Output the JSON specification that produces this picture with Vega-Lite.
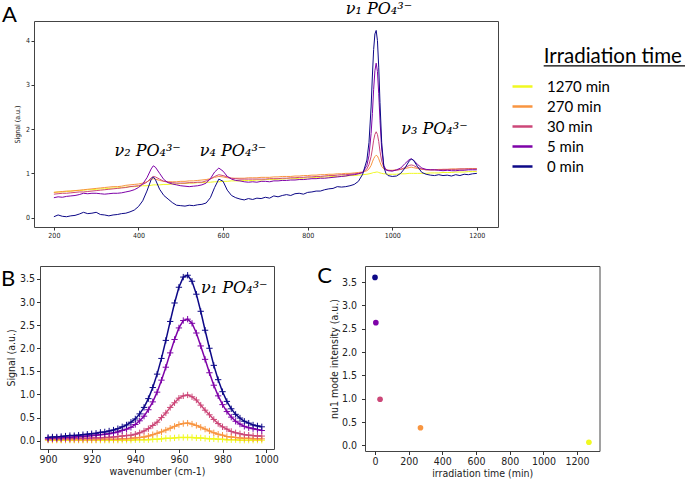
{
"$schema": "https://vega.github.io/schema/vega-lite/v6.json",
"padding": 0,
"background": "white",
"config": {
 "view": {"stroke": "#444", "strokeWidth": 1},
 "axis": {"domain": false, "grid": false, "tickColor": "#333", "labelColor": "#222", "titleColor": "#222", "titleFontWeight": "normal", "labelFont": "DejaVu Sans Condensed, DejaVu Sans", "titleFont": "DejaVu Sans Condensed, DejaVu Sans", "tickSize": 3.5, "labelPadding": 2, "labelFlush": false, "labelOverlap": false}
},
"datasets": {
 "spec": [
{"w":200,"1270 min":0.57,"270 min":0.57,"30 min":0.53,"5 min":0.45,"0 min":0.02},
{"w":210,"1270 min":0.58,"270 min":0.58,"30 min":0.54,"5 min":0.47,"0 min":0.06},
{"w":220,"1270 min":0.58,"270 min":0.59,"30 min":0.55,"5 min":0.46,"0 min":0.03},
{"w":230,"1270 min":0.59,"270 min":0.60,"30 min":0.55,"5 min":0.48,"0 min":0.02},
{"w":240,"1270 min":0.60,"270 min":0.60,"30 min":0.56,"5 min":0.49,"0 min":0.04},
{"w":250,"1270 min":0.61,"270 min":0.61,"30 min":0.57,"5 min":0.50,"0 min":0.05},
{"w":260,"1270 min":0.61,"270 min":0.62,"30 min":0.58,"5 min":0.52,"0 min":0.08},
{"w":270,"1270 min":0.62,"270 min":0.63,"30 min":0.58,"5 min":0.55,"0 min":0.12},
{"w":280,"1270 min":0.63,"270 min":0.64,"30 min":0.59,"5 min":0.54,"0 min":0.09},
{"w":290,"1270 min":0.63,"270 min":0.65,"30 min":0.60,"5 min":0.55,"0 min":0.10},
{"w":300,"1270 min":0.64,"270 min":0.66,"30 min":0.61,"5 min":0.55,"0 min":0.12},
{"w":310,"1270 min":0.65,"270 min":0.67,"30 min":0.62,"5 min":0.54,"0 min":0.07},
{"w":320,"1270 min":0.65,"270 min":0.68,"30 min":0.63,"5 min":0.53,"0 min":0.06},
{"w":330,"1270 min":0.66,"270 min":0.69,"30 min":0.64,"5 min":0.54,"0 min":0.04},
{"w":340,"1270 min":0.67,"270 min":0.70,"30 min":0.65,"5 min":0.55,"0 min":0.06},
{"w":350,"1270 min":0.67,"270 min":0.70,"30 min":0.66,"5 min":0.55,"0 min":0.07},
{"w":360,"1270 min":0.68,"270 min":0.71,"30 min":0.67,"5 min":0.56,"0 min":0.09},
{"w":370,"1270 min":0.69,"270 min":0.73,"30 min":0.68,"5 min":0.58,"0 min":0.10},
{"w":380,"1270 min":0.70,"270 min":0.74,"30 min":0.70,"5 min":0.60,"0 min":0.13},
{"w":390,"1270 min":0.70,"270 min":0.75,"30 min":0.71,"5 min":0.63,"0 min":0.17},
{"w":400,"1270 min":0.71,"270 min":0.76,"30 min":0.72,"5 min":0.68,"0 min":0.25},
{"w":410,"1270 min":0.72,"270 min":0.78,"30 min":0.75,"5 min":0.76,"0 min":0.38},
{"w":420,"1270 min":0.72,"270 min":0.81,"30 min":0.80,"5 min":0.90,"0 min":0.60},
{"w":430,"1270 min":0.73,"270 min":0.86,"30 min":0.90,"5 min":1.10,"0 min":0.86},
{"w":435,"1270 min":0.74,"270 min":0.88,"30 min":0.93,"5 min":1.17,"0 min":0.92},
{"w":440,"1270 min":0.74,"270 min":0.87,"30 min":0.92,"5 min":1.14,"0 min":0.86},
{"w":450,"1270 min":0.74,"270 min":0.84,"30 min":0.87,"5 min":1.00,"0 min":0.64},
{"w":460,"1270 min":0.75,"270 min":0.82,"30 min":0.82,"5 min":0.86,"0 min":0.50},
{"w":470,"1270 min":0.75,"270 min":0.81,"30 min":0.80,"5 min":0.79,"0 min":0.42},
{"w":480,"1270 min":0.76,"270 min":0.81,"30 min":0.79,"5 min":0.76,"0 min":0.34},
{"w":490,"1270 min":0.76,"270 min":0.81,"30 min":0.78,"5 min":0.74,"0 min":0.28},
{"w":500,"1270 min":0.77,"270 min":0.82,"30 min":0.78,"5 min":0.72,"0 min":0.27},
{"w":510,"1270 min":0.77,"270 min":0.82,"30 min":0.78,"5 min":0.71,"0 min":0.26},
{"w":520,"1270 min":0.78,"270 min":0.83,"30 min":0.79,"5 min":0.70,"0 min":0.28},
{"w":530,"1270 min":0.78,"270 min":0.83,"30 min":0.79,"5 min":0.71,"0 min":0.27},
{"w":540,"1270 min":0.79,"270 min":0.84,"30 min":0.80,"5 min":0.72,"0 min":0.29},
{"w":550,"1270 min":0.79,"270 min":0.85,"30 min":0.80,"5 min":0.74,"0 min":0.30},
{"w":560,"1270 min":0.80,"270 min":0.86,"30 min":0.83,"5 min":0.78,"0 min":0.33},
{"w":570,"1270 min":0.80,"270 min":0.88,"30 min":0.87,"5 min":0.88,"0 min":0.45},
{"w":580,"1270 min":0.81,"270 min":0.91,"30 min":0.93,"5 min":1.03,"0 min":0.68},
{"w":590,"1270 min":0.81,"270 min":0.93,"30 min":0.97,"5 min":1.12,"0 min":0.87},
{"w":600,"1270 min":0.82,"270 min":0.92,"30 min":0.95,"5 min":1.05,"0 min":0.82},
{"w":610,"1270 min":0.82,"270 min":0.90,"30 min":0.92,"5 min":0.93,"0 min":0.62},
{"w":620,"1270 min":0.83,"270 min":0.89,"30 min":0.89,"5 min":0.87,"0 min":0.50},
{"w":630,"1270 min":0.83,"270 min":0.89,"30 min":0.88,"5 min":0.84,"0 min":0.45},
{"w":640,"1270 min":0.83,"270 min":0.89,"30 min":0.87,"5 min":0.83,"0 min":0.42},
{"w":650,"1270 min":0.84,"270 min":0.89,"30 min":0.87,"5 min":0.81,"0 min":0.40},
{"w":660,"1270 min":0.84,"270 min":0.90,"30 min":0.87,"5 min":0.80,"0 min":0.43},
{"w":670,"1270 min":0.84,"270 min":0.90,"30 min":0.87,"5 min":0.81,"0 min":0.41},
{"w":680,"1270 min":0.85,"270 min":0.90,"30 min":0.87,"5 min":0.80,"0 min":0.44},
{"w":690,"1270 min":0.85,"270 min":0.91,"30 min":0.87,"5 min":0.82,"0 min":0.43},
{"w":700,"1270 min":0.86,"270 min":0.91,"30 min":0.87,"5 min":0.82,"0 min":0.46},
{"w":710,"1270 min":0.86,"270 min":0.91,"30 min":0.88,"5 min":0.81,"0 min":0.44},
{"w":720,"1270 min":0.86,"270 min":0.92,"30 min":0.88,"5 min":0.83,"0 min":0.49},
{"w":730,"1270 min":0.87,"270 min":0.92,"30 min":0.88,"5 min":0.83,"0 min":0.47},
{"w":740,"1270 min":0.87,"270 min":0.93,"30 min":0.89,"5 min":0.84,"0 min":0.50},
{"w":750,"1270 min":0.88,"270 min":0.93,"30 min":0.89,"5 min":0.84,"0 min":0.52},
{"w":760,"1270 min":0.88,"270 min":0.93,"30 min":0.90,"5 min":0.85,"0 min":0.50},
{"w":770,"1270 min":0.88,"270 min":0.94,"30 min":0.90,"5 min":0.85,"0 min":0.54},
{"w":780,"1270 min":0.89,"270 min":0.94,"30 min":0.91,"5 min":0.86,"0 min":0.55},
{"w":790,"1270 min":0.89,"270 min":0.95,"30 min":0.91,"5 min":0.86,"0 min":0.53},
{"w":800,"1270 min":0.90,"270 min":0.95,"30 min":0.92,"5 min":0.87,"0 min":0.57},
{"w":810,"1270 min":0.90,"270 min":0.96,"30 min":0.92,"5 min":0.88,"0 min":0.58},
{"w":820,"1270 min":0.91,"270 min":0.96,"30 min":0.93,"5 min":0.88,"0 min":0.60},
{"w":830,"1270 min":0.91,"270 min":0.97,"30 min":0.93,"5 min":0.89,"0 min":0.60},
{"w":840,"1270 min":0.92,"270 min":0.97,"30 min":0.94,"5 min":0.89,"0 min":0.63},
{"w":850,"1270 min":0.92,"270 min":0.98,"30 min":0.95,"5 min":0.90,"0 min":0.65},
{"w":860,"1270 min":0.93,"270 min":0.98,"30 min":0.95,"5 min":0.91,"0 min":0.66},
{"w":870,"1270 min":0.93,"270 min":0.99,"30 min":0.96,"5 min":0.92,"0 min":0.70},
{"w":880,"1270 min":0.94,"270 min":0.99,"30 min":0.97,"5 min":0.93,"0 min":0.69},
{"w":890,"1270 min":0.94,"270 min":1.00,"30 min":0.97,"5 min":0.94,"0 min":0.70},
{"w":900,"1270 min":0.95,"270 min":1.00,"30 min":0.98,"5 min":0.96,"0 min":0.72},
{"w":910,"1270 min":0.95,"270 min":1.01,"30 min":0.99,"5 min":0.97,"0 min":0.75},
{"w":920,"1270 min":0.96,"270 min":1.02,"30 min":1.00,"5 min":0.99,"0 min":0.82},
{"w":930,"1270 min":0.97,"270 min":1.03,"30 min":1.02,"5 min":1.02,"0 min":0.98},
{"w":940,"1270 min":0.98,"270 min":1.06,"30 min":1.10,"5 min":1.18,"0 min":1.30},
{"w":945,"1270 min":0.99,"270 min":1.10,"30 min":1.20,"5 min":1.40,"0 min":1.70},
{"w":950,"1270 min":1.00,"270 min":1.18,"30 min":1.38,"5 min":1.90,"0 min":2.50},
{"w":953,"1270 min":1.01,"270 min":1.26,"30 min":1.55,"5 min":2.35,"0 min":3.20},
{"w":956,"1270 min":1.02,"270 min":1.33,"30 min":1.75,"5 min":2.90,"0 min":3.80},
{"w":959,"1270 min":1.02,"270 min":1.38,"30 min":1.88,"5 min":3.32,"0 min":4.15},
{"w":962,"1270 min":1.03,"270 min":1.41,"30 min":1.94,"5 min":3.49,"0 min":4.23},
{"w":965,"1270 min":1.03,"270 min":1.39,"30 min":1.88,"5 min":3.30,"0 min":4.00},
{"w":968,"1270 min":1.02,"270 min":1.33,"30 min":1.72,"5 min":2.80,"0 min":3.40},
{"w":971,"1270 min":1.01,"270 min":1.25,"30 min":1.50,"5 min":2.20,"0 min":2.60},
{"w":975,"1270 min":1.00,"270 min":1.16,"30 min":1.28,"5 min":1.55,"0 min":1.70},
{"w":980,"1270 min":0.99,"270 min":1.10,"30 min":1.14,"5 min":1.18,"0 min":1.15},
{"w":985,"1270 min":0.99,"270 min":1.08,"30 min":1.09,"5 min":1.08,"0 min":1.00},
{"w":990,"1270 min":0.98,"270 min":1.07,"30 min":1.07,"5 min":1.06,"0 min":0.95},
{"w":1000,"1270 min":0.98,"270 min":1.07,"30 min":1.06,"5 min":1.05,"0 min":0.93},
{"w":1010,"1270 min":0.98,"270 min":1.08,"30 min":1.07,"5 min":1.08,"0 min":0.94},
{"w":1020,"1270 min":0.99,"270 min":1.09,"30 min":1.09,"5 min":1.12,"0 min":1.00},
{"w":1030,"1270 min":0.99,"270 min":1.11,"30 min":1.13,"5 min":1.22,"0 min":1.12},
{"w":1040,"1270 min":1.00,"270 min":1.13,"30 min":1.18,"5 min":1.31,"0 min":1.28},
{"w":1045,"1270 min":1.00,"270 min":1.14,"30 min":1.19,"5 min":1.33,"0 min":1.32},
{"w":1050,"1270 min":1.00,"270 min":1.13,"30 min":1.18,"5 min":1.30,"0 min":1.30},
{"w":1060,"1270 min":1.00,"270 min":1.11,"30 min":1.13,"5 min":1.20,"0 min":1.15},
{"w":1070,"1270 min":1.00,"270 min":1.09,"30 min":1.10,"5 min":1.12,"0 min":1.02},
{"w":1080,"1270 min":1.00,"270 min":1.08,"30 min":1.08,"5 min":1.09,"0 min":0.98},
{"w":1090,"1270 min":1.01,"270 min":1.08,"30 min":1.08,"5 min":1.08,"0 min":0.96},
{"w":1100,"1270 min":1.01,"270 min":1.08,"30 min":1.08,"5 min":1.08,"0 min":0.95},
{"w":1110,"1270 min":1.01,"270 min":1.09,"30 min":1.08,"5 min":1.07,"0 min":0.97},
{"w":1120,"1270 min":1.02,"270 min":1.09,"30 min":1.09,"5 min":1.06,"0 min":0.95},
{"w":1130,"1270 min":1.02,"270 min":1.09,"30 min":1.09,"5 min":1.07,"0 min":0.96},
{"w":1140,"1270 min":1.02,"270 min":1.10,"30 min":1.09,"5 min":1.06,"0 min":0.94},
{"w":1150,"1270 min":1.03,"270 min":1.10,"30 min":1.09,"5 min":1.06,"0 min":0.97},
{"w":1160,"1270 min":1.03,"270 min":1.10,"30 min":1.10,"5 min":1.07,"0 min":0.95},
{"w":1170,"1270 min":1.03,"270 min":1.10,"30 min":1.10,"5 min":1.07,"0 min":0.98},
{"w":1180,"1270 min":1.04,"270 min":1.11,"30 min":1.10,"5 min":1.08,"0 min":0.97},
{"w":1190,"1270 min":1.04,"270 min":1.11,"30 min":1.10,"5 min":1.08,"0 min":0.99},
{"w":1200,"1270 min":1.04,"270 min":1.11,"30 min":1.10,"5 min":1.08,"0 min":1.00}
 ],
 "fit": [
{"w":900,"1270 min":0.01,"270 min":0.02,"30 min":0.03,"5 min":0.05,"0 min":0.07},
{"w":902,"1270 min":0.01,"270 min":0.02,"30 min":0.04,"5 min":0.05,"0 min":0.08},
{"w":904,"1270 min":0.01,"270 min":0.02,"30 min":0.04,"5 min":0.06,"0 min":0.08},
{"w":906,"1270 min":0.01,"270 min":0.02,"30 min":0.04,"5 min":0.06,"0 min":0.09},
{"w":908,"1270 min":0.01,"270 min":0.02,"30 min":0.04,"5 min":0.07,"0 min":0.10},
{"w":910,"1270 min":0.01,"270 min":0.02,"30 min":0.04,"5 min":0.07,"0 min":0.11},
{"w":912,"1270 min":0.01,"270 min":0.02,"30 min":0.05,"5 min":0.08,"0 min":0.11},
{"w":914,"1270 min":0.01,"270 min":0.02,"30 min":0.05,"5 min":0.09,"0 min":0.12},
{"w":916,"1270 min":0.01,"270 min":0.02,"30 min":0.05,"5 min":0.09,"0 min":0.13},
{"w":918,"1270 min":0.01,"270 min":0.02,"30 min":0.05,"5 min":0.10,"0 min":0.14},
{"w":920,"1270 min":0.01,"270 min":0.02,"30 min":0.06,"5 min":0.11,"0 min":0.15},
{"w":922,"1270 min":0.01,"270 min":0.02,"30 min":0.06,"5 min":0.12,"0 min":0.16},
{"w":924,"1270 min":0.01,"270 min":0.03,"30 min":0.06,"5 min":0.13,"0 min":0.18},
{"w":926,"1270 min":0.01,"270 min":0.03,"30 min":0.07,"5 min":0.14,"0 min":0.19},
{"w":928,"1270 min":0.01,"270 min":0.03,"30 min":0.07,"5 min":0.15,"0 min":0.21},
{"w":930,"1270 min":0.01,"270 min":0.03,"30 min":0.08,"5 min":0.17,"0 min":0.23},
{"w":932,"1270 min":0.01,"270 min":0.03,"30 min":0.09,"5 min":0.19,"0 min":0.26},
{"w":934,"1270 min":0.01,"270 min":0.04,"30 min":0.10,"5 min":0.22,"0 min":0.30},
{"w":936,"1270 min":0.01,"270 min":0.04,"30 min":0.11,"5 min":0.25,"0 min":0.34},
{"w":938,"1270 min":0.01,"270 min":0.05,"30 min":0.12,"5 min":0.29,"0 min":0.40},
{"w":940,"1270 min":0.02,"270 min":0.06,"30 min":0.14,"5 min":0.35,"0 min":0.47},
{"w":942,"1270 min":0.02,"270 min":0.07,"30 min":0.17,"5 min":0.43,"0 min":0.58},
{"w":944,"1270 min":0.02,"270 min":0.08,"30 min":0.21,"5 min":0.53,"0 min":0.72},
{"w":946,"1270 min":0.02,"270 min":0.10,"30 min":0.26,"5 min":0.67,"0 min":0.91},
{"w":948,"1270 min":0.03,"270 min":0.13,"30 min":0.33,"5 min":0.84,"0 min":1.15},
{"w":950,"1270 min":0.03,"270 min":0.16,"30 min":0.40,"5 min":1.05,"0 min":1.44},
{"w":952,"1270 min":0.04,"270 min":0.19,"30 min":0.50,"5 min":1.31,"0 min":1.78},
{"w":954,"1270 min":0.05,"270 min":0.23,"30 min":0.60,"5 min":1.59,"0 min":2.17},
{"w":956,"1270 min":0.05,"270 min":0.27,"30 min":0.72,"5 min":1.90,"0 min":2.58},
{"w":958,"1270 min":0.06,"270 min":0.31,"30 min":0.82,"5 min":2.19,"0 min":2.98},
{"w":960,"1270 min":0.07,"270 min":0.35,"30 min":0.92,"5 min":2.44,"0 min":3.32},
{"w":962,"1270 min":0.07,"270 min":0.37,"30 min":0.97,"5 min":2.60,"0 min":3.54},
{"w":964,"1270 min":0.07,"270 min":0.38,"30 min":0.99,"5 min":2.63,"0 min":3.58},
{"w":966,"1270 min":0.07,"270 min":0.36,"30 min":0.95,"5 min":2.54,"0 min":3.45},
{"w":968,"1270 min":0.06,"270 min":0.33,"30 min":0.88,"5 min":2.33,"0 min":3.17},
{"w":970,"1270 min":0.06,"270 min":0.29,"30 min":0.77,"5 min":2.05,"0 min":2.80},
{"w":972,"1270 min":0.05,"270 min":0.25,"30 min":0.66,"5 min":1.76,"0 min":2.39},
{"w":974,"1270 min":0.04,"270 min":0.21,"30 min":0.56,"5 min":1.47,"0 min":2.00},
{"w":976,"1270 min":0.04,"270 min":0.17,"30 min":0.46,"5 min":1.20,"0 min":1.63},
{"w":978,"1270 min":0.03,"270 min":0.14,"30 min":0.37,"5 min":0.97,"0 min":1.32},
{"w":980,"1270 min":0.03,"270 min":0.12,"30 min":0.30,"5 min":0.78,"0 min":1.06},
{"w":982,"1270 min":0.02,"270 min":0.09,"30 min":0.25,"5 min":0.63,"0 min":0.85},
{"w":984,"1270 min":0.02,"270 min":0.08,"30 min":0.20,"5 min":0.51,"0 min":0.69},
{"w":986,"1270 min":0.02,"270 min":0.07,"30 min":0.17,"5 min":0.42,"0 min":0.57},
{"w":988,"1270 min":0.01,"270 min":0.06,"30 min":0.15,"5 min":0.36,"0 min":0.49},
{"w":990,"1270 min":0.01,"270 min":0.05,"30 min":0.13,"5 min":0.31,"0 min":0.42},
{"w":992,"1270 min":0.01,"270 min":0.05,"30 min":0.12,"5 min":0.28,"0 min":0.38},
{"w":994,"1270 min":0.01,"270 min":0.04,"30 min":0.11,"5 min":0.26,"0 min":0.34},
{"w":996,"1270 min":0.01,"270 min":0.04,"30 min":0.10,"5 min":0.24,"0 min":0.32},
{"w":998,"1270 min":0.01,"270 min":0.04,"30 min":0.10,"5 min":0.22,"0 min":0.30}
 ],
 "peak": [
{"t":0,"v":3.6,"s":"0 min"},
{"t":5,"v":2.63,"s":"5 min"},
{"t":30,"v":0.99,"s":"30 min"},
{"t":270,"v":0.38,"s":"270 min"},
{"t":1270,"v":0.07,"s":"1270 min"}
 ],
 "annA": [
{"x":968.5,"y":4.71,"label":"ν₁ PO₄³⁻"},
{"x":421.6,"y":1.51,"label":"ν₂ PO₄³⁻"},
{"x":623.6,"y":1.51,"label":"ν₄ PO₄³⁻"},
{"x":1099.6,"y":2.0,"label":"ν₃ PO₄³⁻"}
 ]
},
"bounds": "flush",
"spacing": 39,
"resolve": {"scale": {"color": "independent"}, "legend": {"color": "independent"}},
"vconcat": [
 {
  "width": 464, "height": 206,
  "layer": [
   {
    "data": {"name": "spec"},
    "transform": [{"fold": ["1270 min","270 min","30 min","5 min","0 min"], "as": ["series","signal"]}],
    "mark": {"type": "line", "strokeWidth": 1, "clip": true},
    "encoding": {
     "x": {"field": "w", "type": "quantitative", "scale": {"domain": [153, 1250], "nice": false, "zero": false},
           "axis": {"values": [200,400,600,800,1000,1200], "format": "d", "title": null, "labelFontSize": 7, "tickSize": 3, "labelPadding": 1.5}},
     "y": {"field": "signal", "type": "quantitative", "scale": {"domain": [-0.212, 4.443], "nice": false, "zero": false},
           "axis": {"values": [0,1,2,3,4], "format": "d", "title": "Signal (a.u.)", "labelFontSize": 7, "titleFontSize": 7, "tickSize": 3, "labelPadding": 1.5, "titlePadding": 5}},
     "color": {"field": "series", "type": "nominal",
       "scale": {"domain": ["1270 min","270 min","30 min","5 min","0 min"], "range": ["#f0f921","#f89540","#cc4778","#7e03a8","#0d0887"]},
       "legend": {"orient": "none", "legendX": 477, "legendY": 54, "title": null, "padding": 0,
                  "labelFont": "Lato", "labelFontSize": 15, "labelColor": "black", "labelOffset": 13,
                  "symbolType": "stroke", "symbolSize": 400, "symbolStrokeWidth": 2.5, "rowPadding": 0}}
    }
   },
   {
    "data": {"name": "annA"},
    "mark": {"type": "text", "font": "DejaVu Serif", "fontStyle": "italic", "fontSize": 16, "align": "center", "baseline": "middle", "color": "black"},
    "encoding": {
     "x": {"field": "x", "type": "quantitative", "scale": {"domain": [153, 1250], "nice": false, "zero": false}},
     "y": {"field": "y", "type": "quantitative", "scale": {"domain": [-0.212, 4.443], "nice": false, "zero": false}},
     "text": {"field": "label"}
    }
   },
   {
    "data": {"values": [{"x": 95, "y": 4.58, "label": "A"}]},
    "mark": {"type": "text", "font": "Lato", "fontSize": 22, "align": "center", "baseline": "middle", "color": "black"},
    "encoding": {
     "x": {"field": "x", "type": "quantitative"},
     "y": {"field": "y", "type": "quantitative"},
     "text": {"field": "label"}
    }
   },
   {
    "data": {"values": [{"x": 1358, "y": 3.487, "label": "Irradiation time"}]},
    "mark": {"type": "text", "font": "Lato", "fontSize": 20.5, "align": "left", "baseline": "alphabetic", "color": "black"},
    "encoding": {
     "x": {"field": "x", "type": "quantitative"},
     "y": {"field": "y", "type": "quantitative"},
     "text": {"field": "label"}
    }
   },
   {
    "data": {"values": [{"x": 1358, "x2": 1696, "y": 3.43}]},
    "mark": {"type": "rule", "color": "black", "strokeWidth": 1.3},
    "encoding": {
     "x": {"field": "x", "type": "quantitative"}, "x2": {"field": "x2"},
     "y": {"field": "y", "type": "quantitative"}
    }
   }
  ]
 },
 {
  "bounds": "flush",
  "spacing": 0,
  "resolve": {"scale": {"color": "independent"}, "legend": {"color": "independent"}},
  "hconcat": [
   {
    "width": 6, "height": 10,
    "view": {"stroke": null},
    "data": {"values": [{}]},
    "mark": {"type": "text"},
    "encoding": {"text": {"value": ""}}
   },
   {
    "bounds": "flush",
    "spacing": 91,
    "resolve": {"scale": {"color": "independent"}, "legend": {"color": "independent"}},
    "hconcat": [
     {
      "width": 234, "height": 183,
      "data": {"name": "fit"},
      "transform": [{"fold": ["1270 min","270 min","30 min","5 min","0 min"], "as": ["series","signal"]}],
      "encoding": {
       "x": {"field": "w", "type": "quantitative", "scale": {"domain": [896.3, 1003.6], "nice": false, "zero": false},
             "axis": {"values": [900,920,940,960,980,1000], "format": "d", "title": "wavenumber (cm-1)", "labelFontSize": 10.5, "titleFontSize": 10.5, "titlePadding": 1}},
       "y": {"field": "signal", "type": "quantitative", "scale": {"domain": [-0.18, 3.78], "nice": false, "zero": false},
             "axis": {"values": [0,0.5,1,1.5,2,2.5,3,3.5], "format": ".1f", "title": "Signal (a.u.)", "labelFontSize": 10.5, "titleFontSize": 10.5, "titlePadding": 3}},
       "color": {"field": "series", "type": "nominal",
         "scale": {"domain": ["1270 min","270 min","30 min","5 min","0 min"], "range": ["#f0f921","#f89540","#cc4778","#7e03a8","#0d0887"]},
         "legend": null}
      },
      "layer": [
       {"mark": {"type": "line", "strokeWidth": 1.5}},
       {"mark": {"type": "point", "shape": "M-1,0H1M0,-1V1", "filled": false, "size": 40, "strokeWidth": 1, "opacity": 1}},
       {
        "data": {"values": [{"x": 985.4, "y": 3.31, "label": "ν₁ PO₄³⁻"}]},
        "mark": {"type": "text", "font": "DejaVu Serif", "fontStyle": "italic", "fontSize": 16, "align": "center", "baseline": "middle", "color": "black"},
        "encoding": {
         "x": {"field": "x", "type": "quantitative"},
         "y": {"field": "y", "type": "quantitative"},
         "text": {"field": "label"},
         "color": {"value": "black"}
        }
       },
       {
        "data": {"values": [{"x": 881.7, "y": 3.5, "label": "B"}]},
        "mark": {"type": "text", "font": "Lato", "fontSize": 22, "align": "center", "baseline": "middle", "color": "black"},
        "encoding": {
         "x": {"field": "x", "type": "quantitative"},
         "y": {"field": "y", "type": "quantitative"},
         "text": {"field": "label"},
         "color": {"value": "black"}
        }
       }
      ]
     },
     {
      "width": 234.5, "height": 185,
      "data": {"name": "peak"},
      "encoding": {
       "x": {"field": "t", "type": "quantitative", "scale": {"domain": [-59.4, 1333], "nice": false, "zero": false},
             "axis": {"values": [0,200,400,600,800,1000,1200], "format": "d", "title": "irradiation time (min)", "labelFontSize": 10.5, "titleFontSize": 10.5, "titlePadding": 1}},
       "y": {"field": "v", "type": "quantitative", "scale": {"domain": [-0.118, 3.844], "nice": false, "zero": false},
             "axis": {"values": [0,0.5,1,1.5,2,2.5,3,3.5], "format": ".1f", "title": "nu1 mode intensity (a.u.)", "labelFontSize": 10.5, "titleFontSize": 10.5, "labelPadding": 5, "titlePadding": 2}}
      },
      "layer": [
       {
        "mark": {"type": "circle", "size": 32, "opacity": 1},
        "encoding": {
         "color": {"field": "s", "type": "nominal",
           "scale": {"domain": ["1270 min","270 min","30 min","5 min","0 min"], "range": ["#f0f921","#f89540","#cc4778","#7e03a8","#0d0887"]},
           "legend": null}
        }
       },
       {
        "data": {"values": [{"x": -299, "y": 3.62, "label": "C"}]},
        "mark": {"type": "text", "font": "Lato", "fontSize": 22, "align": "center", "baseline": "middle", "color": "black"},
        "encoding": {
         "x": {"field": "x", "type": "quantitative"},
         "y": {"field": "y", "type": "quantitative"},
         "text": {"field": "label"}
        }
       }
      ]
     }
    ]
   }
  ]
 }
]
}
